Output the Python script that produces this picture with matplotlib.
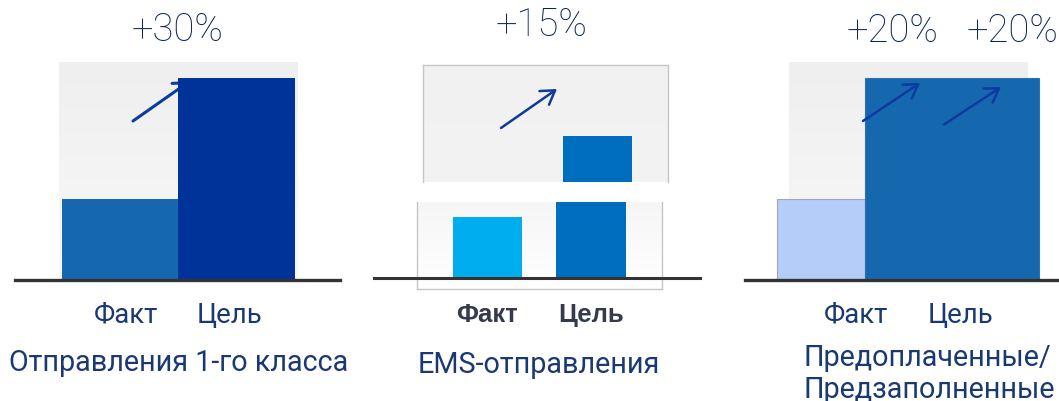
import numpy as np
import matplotlib
matplotlib.use("Agg")
import matplotlib.pyplot as plt
from matplotlib.transforms import blended_transform_factory

# --- data ---
categories = ["Факт", "Цель"]
first_class = [40, 100]
ems = [30, 70]
prepaid = [40, 100]
growth_labels = ["+30%", "+15%", "+20%", "+20%"]
titles = ["Отправления 1-го класса", "EMS-отправления", "Предоплаченные/\nПредзаполненные"]

W, H = 1059, 402
PX = 2.02  # pixels per value unit
NAVY = "#1a3872"
ARROW = "#12399a"
FONT = "Roboto"

fig = plt.figure(figsize=(W / 100, H / 100), dpi=100)
fig.patch.set_facecolor("white")


def fx(px):
    return px / W


def fy(py):
    return 1 - py / H


def panel(x0, x1, ytop, ybot, base, cx, unit):
    ax = fig.add_axes([fx(x0), fy(ybot), fx(x1) - fx(x0), fy(ytop) - fy(ybot)])
    ax.set_xlim((x0 - cx) / unit, (x1 - cx) / unit)
    ax.set_ylim((base - ybot) / PX, (base - ytop) / PX)
    ax.set_xticks([])
    ax.set_yticks([])
    return ax


def gradient(ax, top, bottom):
    c1 = np.array(matplotlib.colors.to_rgb(top))
    c2 = np.array(matplotlib.colors.to_rgb(bottom))
    t = np.linspace(0, 1, 64)[:, None]
    img = (c1 * (1 - t) + c2 * t)[:, None, :]
    ax.imshow(img, extent=[0, 1, 0, 1], transform=ax.transAxes, aspect="auto", zorder=0)


def baseline(ax, x0, x1, bx0, bx1, lw=2.2):
    ax.axhline(0, xmin=(x0 - bx0) / (bx1 - bx0), xmax=(x1 - bx0) / (bx1 - bx0),
               color="#333333", lw=lw, clip_on=False, zorder=5)


def arrow(ax, p0, p1, lw=1.6, z=4, color=ARROW):
    ax.annotate("", xy=(fx(p1[0]), fy(p1[1])), xytext=(fx(p0[0]), fy(p0[1])),
                xycoords="figure fraction", textcoords="figure fraction",
                arrowprops=dict(arrowstyle="->,head_length=0.95,head_width=0.6",
                                color=color, lw=lw, shrinkA=0, shrinkB=0),
                annotation_clip=False, zorder=z)


def label(ax, x, py, s, **kw):
    tr = blended_transform_factory(ax.transData, fig.transFigure)
    ax.text(x, fy(py), s, transform=tr, ha="center", va="baseline", clip_on=False, **kw)


txt = dict(family=FONT, fontweight="normal", color=NAVY)
pct = dict(family=FONT, fontweight="light", color="#0c2458")

# --- panel 1 ---
ax1 = panel(59, 298, 63, 281, 281, 120, 116.5)
for s in ax1.spines.values():
    s.set_visible(False)
gradient(ax1, "#efefef", "#f8f8f8")
ax1.bar([0, 1], first_class, width=1.0, color=["#1668ae", "#003399"], zorder=2, clip_on=False)
baseline(ax1, 15, 340, 59, 298, lw=2.4)
arrow(ax1, (133, 122), (190, 82), lw=2.2, z=1.5, color="#0b3d9a")
label(ax1, 0.05, 323, categories[0], fontsize=19.8, **txt)
label(ax1, 0.94, 323, categories[1], fontsize=19.8, **txt)
fig.text(fx(178), fy(41), growth_labels[0], ha="center", va="baseline", fontsize=27.5, **pct)
fig.text(fx(178.5), fy(371), titles[0], ha="center", va="baseline", fontsize=20.7, **txt)

# --- panel 2 (broken) ---
ax2u = panel(423, 668, 66, 182.7, 278.5, 493.8, 103.5)
ax2l = panel(416.7, 661.7, 202.7, 290, 278.5, 487.4, 103.5)
for ax, hide in ((ax2u, "bottom"), (ax2l, "top")):
    for name, s in ax.spines.items():
        s.set_color("#c6c6c6")
        s.set_linewidth(1.0)
        s.set_visible(name != hide)
gradient(ax2u, "#f1f1f1", "#f3f3f3")
gradient(ax2l, "#f6f6f6", "#ffffff")
for ax in (ax2u, ax2l):
    ax.bar([0, 1], ems, width=0.67, color=["#00aeef", "#006ebe"], zorder=2)
baseline(ax2l, 374, 700, 416.7, 661.7, lw=2.2)
arrow(ax2u, (501, 129), (557, 90), lw=1.8)
bold = dict(family="Liberation Sans", fontweight="bold", color="#353b4c")
label(ax2l, 0, 322, categories[0], fontsize=18.5, **bold)
label(ax2l, 1, 322, categories[1], fontsize=18.5, **bold)
fig.text(fx(541.5), fy(36), growth_labels[1], ha="center", va="baseline", fontsize=27.5, **pct)
fig.text(fx(539), fy(373), titles[1], ha="center", va="baseline", fontsize=20.7, **txt)

# --- panel 3 ---
ax3 = panel(789, 1028, 63, 281, 281, 821, 131)
for s in ax3.spines.values():
    s.set_visible(False)
gradient(ax3, "#efefef", "#f8f8f8")
ax3.bar([0, 1], prepaid, width=[88 / 131, 174 / 131], color=["#b4cdf9", "#1668ae"],
        edgecolor=["#a0a8b8", "#2a72b0"], linewidth=0.8, zorder=2, clip_on=False)
baseline(ax3, 745, 1059, 789, 1028, lw=2.4)
arrow(ax3, (863, 122), (920, 84), lw=1.8, color="#0d3aa0")
arrow(ax3, (944, 125.5), (1001, 88), lw=1.8, color="#0d3aa0")
label(ax3, 35 / 131, 323, categories[0], fontsize=19.8, **txt)
label(ax3, 139 / 131, 323, categories[1], fontsize=19.8, **txt)
fig.text(fx(892.5), fy(42), growth_labels[2], ha="center", va="baseline", fontsize=27.5, **pct)
fig.text(fx(1013), fy(42), growth_labels[3], ha="center", va="baseline", fontsize=27.5, **pct)
fig.text(fx(804), fy(398), titles[2], ha="left", va="baseline", fontsize=20.7,
         linespacing=1.2, **txt)

fig.savefig("out.png", dpi=100, facecolor="white")
